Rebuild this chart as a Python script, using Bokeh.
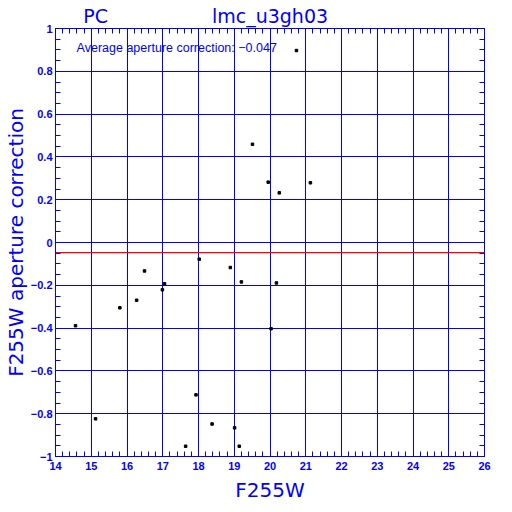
from bokeh.plotting import figure
from bokeh.models import Range1d, LinearAxis, FixedTicker, Span, Label, ColumnDataSource
from bokeh.embed import file_html
from bokeh.resources import INLINE

# ---- data ----
title_text = "lmc_u3gh03"
detector = "PC"
x_label = "F255W"
y_label = "F255W aperture correction"
avg_corr = -0.047
note_text = "Average aperture correction: \u22120.047"

mag = [14.56, 15.12, 15.80, 16.27, 16.49, 16.99, 17.05, 17.64, 17.93, 18.02, 18.38,
       18.89, 19.01, 19.14, 19.20, 19.51, 19.95, 20.03, 20.18, 20.26, 20.74, 21.13]
corr = [-0.389, -0.824, -0.305, -0.270, -0.133, -0.221, -0.193, -0.952, -0.712, -0.078, -0.848,
        -0.117, -0.866, -0.952, -0.184, 0.459, 0.282, -0.403, -0.189, 0.232, 0.897, 0.279]

xticks = [14, 15, 16, 17, 18, 19, 20, 21, 22, 23, 24, 25, 26]
xminor = [round(14 + 0.2 * i, 2) for i in range(61)]
yticks = [-1, -0.8, -0.6, -0.4, -0.2, 0, 0.2, 0.4, 0.6, 0.8, 1]
ytick_labels = ["\u22121", "\u22120.8", "\u22120.6", "\u22120.4", "\u22120.2", "0",
                "0.2", "0.4", "0.6", "0.8", "1"]
yminor = [round(-1 + 0.05 * i, 3) for i in range(41)]
# header texts sit over these x positions
header_pos = [15.12, 20]
header_labels = [detector, title_text]

BLUE = "#0000ff"

p = figure(width=504, height=504, output_backend="svg", toolbar_location=None,
           x_range=Range1d(14, 26), y_range=Range1d(-1, 1),
           min_border_left=55, min_border_right=20, min_border_top=28, min_border_bottom=47,
           x_axis_location=None, y_axis_location=None)
p.background_fill_color = "white"
p.border_fill_color = "white"
p.outline_line_color = BLUE


def style_axis(ax):
    ax.axis_line_color = BLUE
    ax.major_tick_line_color = BLUE
    ax.minor_tick_line_color = BLUE
    ax.major_tick_in = 8
    ax.major_tick_out = 0
    ax.minor_tick_in = 5
    ax.minor_tick_out = 0
    ax.major_label_text_color = BLUE
    ax.major_label_text_font = "Liberation Sans"
    ax.major_label_text_font_style = "bold"
    ax.major_label_text_font_size = "11px"
    ax.axis_label_text_color = BLUE
    ax.axis_label_text_font = "DejaVu Sans"
    ax.axis_label_text_font_style = "normal"
    ax.axis_label_text_font_size = "20px"


# bottom axis with the x label
bottom = LinearAxis(ticker=FixedTicker(ticks=xticks, minor_ticks=xminor), axis_label=x_label)
style_axis(bottom)
bottom.major_label_standoff = 5
bottom.axis_label_standoff = 5

# left axis with the y label
left = LinearAxis(ticker=FixedTicker(ticks=yticks, minor_ticks=yminor), axis_label=y_label)
style_axis(left)
left.major_label_standoff = 3
left.axis_label_standoff = 0
left.major_label_overrides = {t: s for t, s in zip(yticks, ytick_labels)}

# top axis: minor ticks + header texts
top = LinearAxis(ticker=FixedTicker(ticks=header_pos, minor_ticks=xminor))
style_axis(top)
top.major_tick_in = 0
top.major_tick_line_color = None
top.major_label_text_font = "DejaVu Sans"
top.major_label_text_font_style = "normal"
top.major_label_text_font_size = "19px"
top.major_label_standoff = 2
top.major_label_overrides = {t: s for t, s in zip(header_pos, header_labels)}

# right axis: minor ticks only
right = LinearAxis(ticker=FixedTicker(ticks=[], minor_ticks=yminor))
style_axis(right)
right.major_label_standoff = 0

p.add_layout(bottom, "below")
p.add_layout(top, "above")
p.add_layout(left, "left")
p.add_layout(right, "right")

p.xgrid.ticker = FixedTicker(ticks=xticks)
p.ygrid.ticker = FixedTicker(ticks=yticks)
for g in (p.xgrid, p.ygrid):
    g.grid_line_color = BLUE
    g.grid_line_width = 1
    g.grid_line_alpha = 1

p.add_layout(Span(location=avg_corr, dimension="width", line_color="red", line_width=1.2))

src = ColumnDataSource(dict(x=mag, y=corr))
p.scatter("x", "y", source=src, marker="square", size=2.5, color="black")

p.add_layout(Label(x=14.59, y=0.907, text=note_text, text_font="Liberation Sans",
                   text_font_size="12.5px", text_color=BLUE, text_align="left",
                   text_baseline="middle"))

open("out.html", "w").write(file_html(p, INLINE))
